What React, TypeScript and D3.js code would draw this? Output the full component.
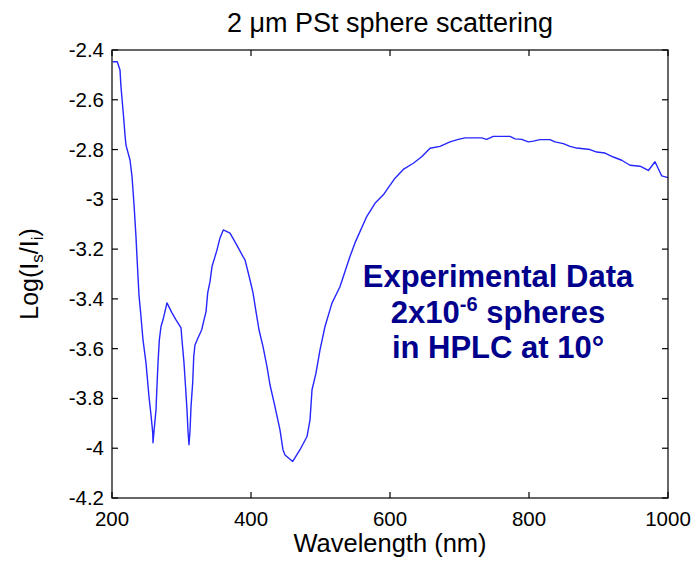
import React from "react";
import * as d3 from "d3";

const wavelengths = [
  201, 207.6, 211.5, 212.9, 214.8, 216.8, 218.7, 220.1, 225.9, 228.8,
  231.7, 234.5, 236, 238.8, 241.7, 244.6, 248.9, 253.2, 256.1, 258.6,
  259, 260.4, 263.3, 264.7, 266.2, 268.1, 270.5, 273.4, 279.1, 286.3,
  292.1, 299.3, 300.7, 303.6, 305.8, 307.9, 309.4, 310.8, 312.2, 313.7,
  316.1, 317.6, 319.4, 323.7, 329.1, 332.4, 335.3, 337.7, 341, 343.9,
  348.2, 351.1, 355.4, 360.1, 369.8, 379.4, 388.5, 391.4, 398.6, 402.9,
  407.2, 411.5, 417.3, 423, 427.3, 434.5, 441.7, 446, 448.9, 460,
  470.5, 480.6, 484.9, 487.8, 493.5, 499.3, 506.5, 516.5, 528, 542.4,
  549.6, 566.5, 578.4, 590.4, 607.2, 619.1, 633.5, 645.6, 657.6, 671.9,
  686.3, 698.3, 707.9, 731.9, 739.1, 748.6, 772.7, 779.9, 789.5, 799,
  806.2, 815.8, 830.2, 837.4, 849.4, 859, 868.6, 887.8, 897.4, 909.4,
  921.3, 933.4, 945.3, 959.7, 971.7, 981.3, 991, 1000,
];

const logIntensity = [
  -2.447, -2.447, -2.48, -2.547, -2.608, -2.673, -2.741, -2.782, -2.842, -2.909,
  -3.022, -3.15, -3.235, -3.384, -3.471, -3.565, -3.657, -3.792, -3.866, -3.938,
  -3.978, -3.933, -3.846, -3.752, -3.657, -3.565, -3.511, -3.484, -3.416, -3.456,
  -3.484, -3.516, -3.565, -3.657, -3.752, -3.846, -3.934, -3.986, -3.934, -3.833,
  -3.737, -3.632, -3.585, -3.557, -3.524, -3.484, -3.451, -3.376, -3.331, -3.27,
  -3.23, -3.203, -3.155, -3.123, -3.136, -3.183, -3.23, -3.243, -3.324, -3.376,
  -3.451, -3.524, -3.592, -3.672, -3.745, -3.833, -3.926, -4.006, -4.027, -4.053,
  -4.006, -3.953, -3.886, -3.765, -3.698, -3.605, -3.511, -3.417, -3.351, -3.23,
  -3.175, -3.069, -3.016, -2.982, -2.915, -2.88, -2.855, -2.829, -2.795, -2.787,
  -2.769, -2.759, -2.753, -2.753, -2.759, -2.747, -2.747, -2.757, -2.759, -2.769,
  -2.766, -2.76, -2.76, -2.769, -2.776, -2.787, -2.794, -2.8, -2.81, -2.814,
  -2.83, -2.843, -2.863, -2.867, -2.884, -2.849, -2.906, -2.913,
];

const xTicks = [200, 400, 600, 800, 1000];
const yTicks = [-4.2, -4, -3.8, -3.6, -3.4, -3.2, -3, -2.8, -2.6, -2.4];

const titleText = "2 \u03bcm PSt sphere scattering";
const xLabelText = "Wavelength (nm)";
const annotationLine1 = "Experimental Data";
const annotationLine3 = "in HPLC at 10\u00b0";

const W = 698;
const H = 562;
const left = 112;
const right = 668;
const top = 50;
const bottom = 498;

export default function App() {
  const x = d3.scaleLinear().domain([200, 1000]).range([left, right]);
  const y = d3.scaleLinear().domain([-4.2, -2.4]).range([bottom, top]);
  const points: [number, number][] = wavelengths.map((w, i) => [w, logIntensity[i]]);
  const line = d3
    .line<[number, number]>()
    .x((d) => x(d[0]))
    .y((d) => y(d[1]));
  const font = "'Liberation Sans', Arial, Helvetica, sans-serif";
  const tickLen = 6;
  const fmt = (v: number) => String(Math.round(v * 10) / 10);

  return (
    <svg
      width={W}
      height={H}
      style={{ position: "absolute", left: 0, top: 0, background: "#fff" }}
      fontFamily={font}
    >
      <rect x={0} y={0} width={W} height={H} fill="#fff" />
      <text x={(left + right) / 2} y={31.5} fontSize={27} textAnchor="middle" fill="#000">
        {titleText}
      </text>

      <path d={line(points) || ""} fill="none" stroke="#2626ff" strokeWidth={1.4} strokeLinejoin="round" />

      <rect x={left} y={top} width={right - left} height={bottom - top} fill="none" stroke="#000" strokeWidth={1.2} />

      {xTicks.map((t) => (
        <g key={"x" + t}>
          <line x1={x(t)} x2={x(t)} y1={bottom} y2={bottom - tickLen} stroke="#000" strokeWidth={1.2} />
          <line x1={x(t)} x2={x(t)} y1={top} y2={top + tickLen} stroke="#000" strokeWidth={1.2} />
          <text x={x(t)} y={526} fontSize={20.5} textAnchor="middle" fill="#000">
            {t}
          </text>
        </g>
      ))}

      {yTicks.map((t) => (
        <g key={"y" + t}>
          <line x1={left} x2={left + tickLen} y1={y(t)} y2={y(t)} stroke="#000" strokeWidth={1.2} />
          <line x1={right} x2={right - tickLen} y1={y(t)} y2={y(t)} stroke="#000" strokeWidth={1.2} />
          <text x={104} y={y(t) + 7} fontSize={20.5} textAnchor="end" fill="#000">
            {fmt(t)}
          </text>
        </g>
      ))}

      <text x={(left + right) / 2} y={551.5} fontSize={25.5} textAnchor="middle" fill="#000">
        {xLabelText}
      </text>

      <text
        transform={`translate(38, ${(top + bottom) / 2}) rotate(-90)`}
        fontSize={25}
        textAnchor="middle"
        fill="#000"
      >
        Log(I
        <tspan fontSize={17} dy={5}>s</tspan>
        <tspan dy={-5}>/I</tspan>
        <tspan fontSize={17} dy={5}>i</tspan>
        <tspan dy={-5}>)</tspan>
      </text>

      <g fill="#00008c" fontWeight="bold" fontSize={31} textAnchor="middle">
        <text x={498} y={286.7}>{annotationLine1}</text>
        <text x={498} y={323.3}>
          2x10
          <tspan fontSize={20} dy={-12}>-6</tspan>
          <tspan dy={12}> spheres</tspan>
        </text>
        <text x={498} y={358.3}>{annotationLine3}</text>
      </g>
    </svg>
  );
}
